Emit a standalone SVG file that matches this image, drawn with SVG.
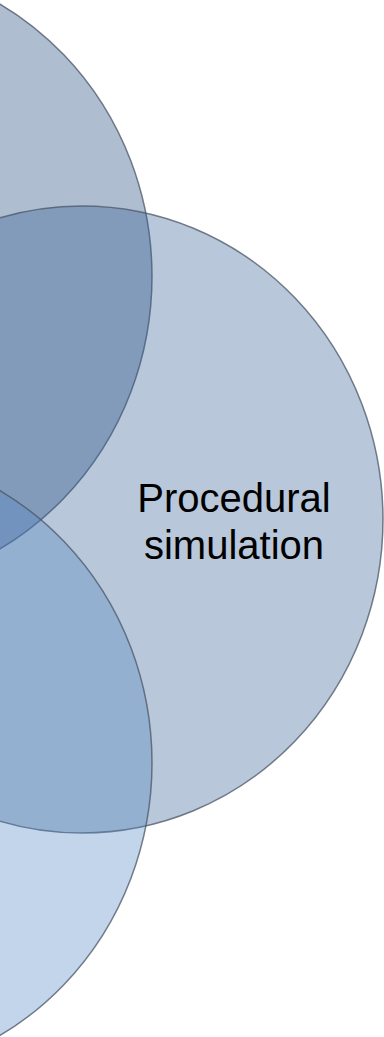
<svg xmlns="http://www.w3.org/2000/svg" width="384" height="1037" viewBox="0 0 384 1037">
  <style>
    .venn { stroke: #4a5566; stroke-opacity: 0.75; stroke-width: 1.5; fill-opacity: 0.34; }
    .label { font-family: "Liberation Sans", Arial, sans-serif; font-size: 40px; fill: #000; text-anchor: middle; }
  </style>
  <rect width="384" height="1037" fill="#ffffff"/>
  <!-- three overlapping sets -->
  <g id="set-top">
    <ellipse class="venn" cx="-149" cy="276.5" rx="301" ry="313.5" fill="#143e75"/>
  </g>
  <g id="set-right">
    <ellipse class="venn" cx="82" cy="519.5" rx="301" ry="313.5" fill="#2f5b93"/>
    <text class="label" x="234" y="512">Procedural</text>
    <text class="label" x="234" y="559">simulation</text>
  </g>
  <g id="set-bottom">
    <ellipse class="venn" cx="-149" cy="763" rx="301" ry="313.5" fill="#4f84c2"/>
  </g>
  <g id="connectors"/>
</svg>
